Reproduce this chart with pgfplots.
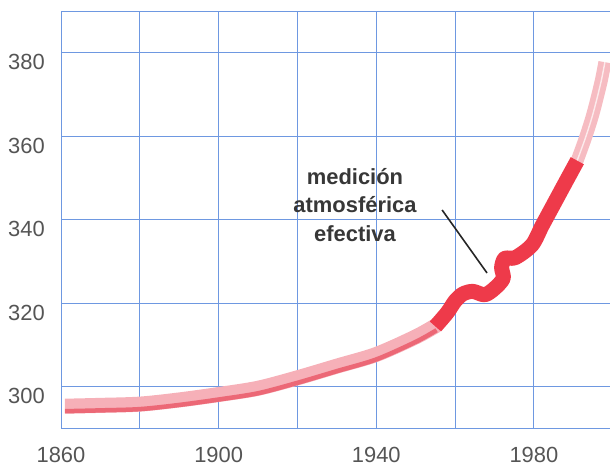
\documentclass[border=0pt]{standalone}
\usepackage{fontspec}
\setmainfont{Liberation Sans}
\usepackage{pgfplots}
\usepackage{pgfplotstable}
\pgfplotsset{compat=1.18}
\definecolor{gridblue}{RGB}{110,152,225}
\definecolor{pinkband}{RGB}{246,176,184}
\definecolor{pinkedge}{RGB}{236,104,118}
\definecolor{redband}{RGB}{238,58,74}
\definecolor{pinklight}{RGB}{246,188,194}
\definecolor{labgray}{RGB}{85,85,85}
\definecolor{txtgray}{RGB}{55,55,55}

\pgfplotstableread{
year co2
1861 295.4
1870 295.6
1880 295.9
1890 296.9
1900 298.2
1910 299.7
1920 302.2
1930 305.0
1940 307.8
1950 312.0
1955.3 314.8
}\icecore

\pgfplotstableread{
year co2
1955 314.5
1958 317.8
1960 320.6
1962 322.3
1964.5 322.9
1967.5 322.1
1970 323.6
1972.2 326.0
1971.8 328.6
1972.6 330.8
1975.3 331.0
1979.5 334.0
1982 338.5
1984 342.0
1988 349.0
1991 354.2
}\measured

\pgfplotstableread{
year co2
1990.8 353.8
1993 359.5
1995 365.5
1997 373.0
1998 377.8
}\recent

\begin{document}
\begin{tikzpicture}
\useasboundingbox (0,0) rectangle (610bp,467bp);
\begin{axis}[
  at={(61bp,38.25bp)}, anchor=south west,
  scale only axis, width=549bp, height=417.5bp,
  xmin=1860, xmax=1999.3, ymin=290, ymax=390,
  axis x line*=box, axis y line*=left,
  axis line style={gridblue, line width=1bp},
  xtick={1860,1880,...,1980},
  xticklabels={1860,,1900,,1940,,1980},
  ytick={300,320,...,380},
  major tick length=0pt,
  grid=major,
  major grid style={gridblue, line width=1bp},
  tick label style={font=\fontsize{22}{26}\selectfont, text=labgray, inner sep=0pt},
  /pgf/number format/assume math mode=true,
  yticklabel style={anchor=north east, xshift=-16bp, yshift=-1bp},
  xticklabel style={anchor=north, yshift=-18bp},
]
\addplot[pinkband, line width=15bp, smooth, no markers] table[x=year,y=co2] {\icecore};
\addplot[pinkedge, line width=4.5bp, smooth, no markers, yshift=-5bp] table[x=year,y=co2] {\icecore};
\addplot[pinklight, line width=13bp, smooth, no markers] table[x=year,y=co2] {\recent};
\addplot[white, opacity=0.7, line width=1.4bp, smooth, no markers] table[x=year,y=co2] {\recent};
\addplot[redband, line width=15bp, smooth, tension=0.5, no markers, line join=round] table[x=year,y=co2] {\measured};
\draw[black!85, line width=1.6bp] (axis cs:1956.7,342.4) -- (axis cs:1968.1,327.3);
\node[align=center, font=\fontsize{22}{28.5}\selectfont\bfseries, text=txtgray] at (axis cs:1934.6,343.6) {medición\\atmosférica\\efectiva};
\end{axis}
\end{tikzpicture}
\end{document}
